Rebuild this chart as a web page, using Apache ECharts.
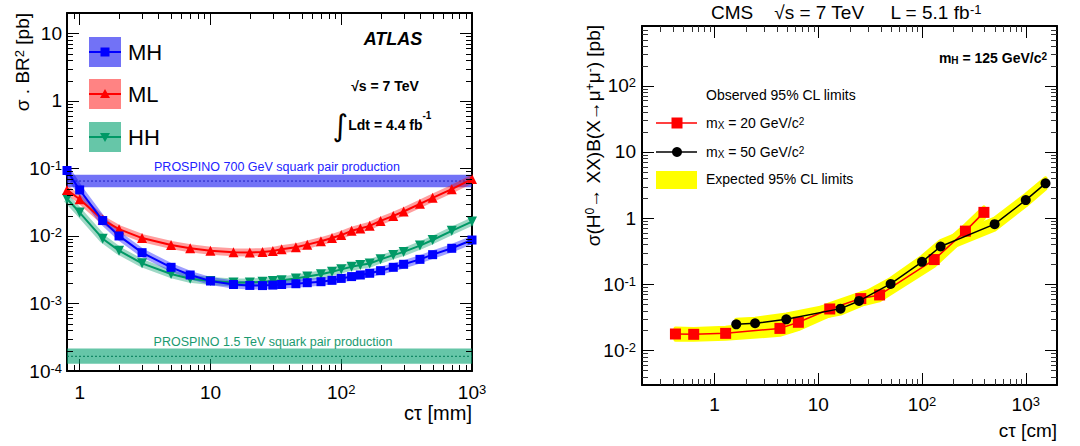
<!DOCTYPE html>
<html style="height: 100%; width: 100%">
  <head>
    <meta charset="utf-8" />
  </head>
  <body style="height: 100%; width: 100%; margin: 0">
    <div id="chart-panel" style="height: 446px; width: 1080px"></div>
    <script
      type="text/javascript"
      src="https://cdn.jsdelivr.net/npm/echarts@6/dist/echarts.min.js"
    ></script>

    <script type="text/javascript">
      // ---- left panel (ATLAS) : limits vs c*tau [mm]
      var atlasCtau = [0.8, 1, 1.5, 2, 3, 5, 7, 10, 15, 20, 25, 30, 35, 45, 55, 70, 85, 100, 120, 140, 165, 200, 250, 300, 400, 500, 700, 1000];
      var mhLimit = [0.093, 0.048, 0.0169, 0.01, 0.00565, 0.00343, 0.00264, 0.00215, 0.00191, 0.00185, 0.00184, 0.00187, 0.00191, 0.00196, 0.00203, 0.0021, 0.0022, 0.00235, 0.0025, 0.00264, 0.0028, 0.00306, 0.00343, 0.0038, 0.0045, 0.00528, 0.00656, 0.0087];
      var mlLimit = [0.048, 0.035, 0.0173, 0.0126, 0.0093, 0.00735, 0.00656, 0.00605, 0.00572, 0.0057, 0.0058, 0.006, 0.00634, 0.00679, 0.00743, 0.00834, 0.0093, 0.0103, 0.0119, 0.0129, 0.0141, 0.0167, 0.0198, 0.023, 0.0299, 0.0367, 0.0493, 0.0695];
      var hhLimit = [0.0355, 0.0222, 0.0091, 0.00605, 0.00393, 0.00273, 0.00232, 0.00215, 0.00205, 0.00205, 0.0021, 0.00215, 0.0022, 0.00235, 0.0025, 0.0027, 0.00295, 0.0032, 0.0035, 0.0037, 0.0039, 0.0045, 0.0052, 0.0058, 0.0072, 0.0087, 0.0119, 0.0163];
      // PROSPINO cross sections: [low, central, high]
      var prospino700 = [0.0528, 0.065, 0.0805];
      var prospino1500 = [0.000128, 0.000165, 0.000215];

      // ---- right panel (CMS) : limits vs c*tau [cm]
      var cmsCtau20 = [0.42, 0.63, 1.28, 4.27, 6.43, 12.9, 25.7, 39, 131, 262, 395];
      var cmsObs20 = [0.0177, 0.0175, 0.0181, 0.0215, 0.0266, 0.0423, 0.0607, 0.0689, 0.236, 0.635, 1.22];
      var cmsExp20Lo = [0.0145, 0.0145, 0.015, 0.0172, 0.021, 0.034, 0.049, 0.057, 0.19, 0.52, 1.0];
      var cmsExp20Hi = [0.0215, 0.021, 0.022, 0.027, 0.032, 0.05, 0.073, 0.085, 0.3, 0.78, 1.45];
      var cmsCtau50 = [1.62, 2.46, 4.92, 16.4, 24.7, 49.8, 100, 151, 501, 1000, 1550];
      var cmsObs50 = [0.0248, 0.0257, 0.0295, 0.0428, 0.0559, 0.101, 0.218, 0.372, 0.81, 1.87, 3.35];
      var cmsExp50Lo = [0.021, 0.0215, 0.025, 0.036, 0.047, 0.083, 0.18, 0.31, 0.67, 1.55, 2.8];
      var cmsExp50Hi = [0.029, 0.03, 0.035, 0.051, 0.066, 0.12, 0.26, 0.45, 0.98, 2.25, 4.0];

      var atlasX = [0.8, 1000];
      var atlasY = [0.0001, 20];
      var cmsX = [0.2, 2000];
      var cmsY = [0.003, 800];

      var FONT = "Liberation Sans";
      var BLUE = "#0000ff";
      var RED = "#ff0000";
      var GREEN = "#009966";

      function zip(xs, ys) {
        return xs.map(function (x, i) { return [x, ys[i]]; });
      }

      // minor tick values 2..9 x 10^k inside the range
      function minorValues(range) {
        var vals = [];
        var e0 = Math.floor(Math.log10(range[0]));
        var e1 = Math.ceil(Math.log10(range[1]));
        for (var e = e0; e <= e1; e++) {
          for (var m = 2; m <= 9; m++) {
            var v = m * Math.pow(10, e);
            if (v > range[0] * 1.0001 && v < range[1] * 0.9999) vals.push(v);
          }
        }
        return vals;
      }
      // x minor ticks and y minor ticks, one custom series each
      function makeXMinor(color) {
        return function (params, api) {
          var cs = params.coordSys;
          var x = Math.round(api.coord([api.value(0), api.value(1)])[0]) + 0.5;
          return { type: "group", children: [
            { type: "line", shape: { x1: x, y1: cs.y + cs.height, x2: x, y2: cs.y + cs.height - 6 }, style: { stroke: color, lineWidth: 1 } },
            { type: "line", shape: { x1: x, y1: cs.y, x2: x, y2: cs.y + 6 }, style: { stroke: color, lineWidth: 1 } }
          ] };
        };
      }
      function makeYMinor(color) {
        return function (params, api) {
          var cs = params.coordSys;
          var y = Math.round(api.coord([api.value(0), api.value(1)])[1]) + 0.5;
          return { type: "group", children: [
            { type: "line", shape: { x1: cs.x, y1: y, x2: cs.x + 6, y2: y }, style: { stroke: color, lineWidth: 1 } },
            { type: "line", shape: { x1: cs.x + cs.width, y1: y, x2: cs.x + cs.width - 6, y2: y }, style: { stroke: color, lineWidth: 1 } }
          ] };
        };
      }
      function minorSeries(axisIdx, xr, yr, which, color) {
        var vals = minorValues(which === "x" ? xr : yr);
        return {
          type: "custom",
          xAxisIndex: axisIdx, yAxisIndex: axisIdx,
          renderItem: which === "x" ? makeXMinor(color) : makeYMinor(color),
          data: vals.map(function (v) { return which === "x" ? [v, yr[0]] : [xr[0], v]; }),
          encode: { x: 0, y: 1 },
          silent: true, z: 5
        };
      }

      // horizontal cross-section band spanning the whole plot width
      function makeBandRenderer(fill, stroke) {
        return function (params, api) {
          var cs = params.coordSys;
          var yLo = api.coord([api.value(0), api.value(1)])[1];
          var yMid = api.coord([api.value(0), api.value(2)])[1];
          var yHi = api.coord([api.value(0), api.value(3)])[1];
          return { type: "group", children: [
            { type: "rect", shape: { x: cs.x, y: yHi, width: cs.width, height: yLo - yHi }, style: { fill: fill } },
            { type: "line", shape: { x1: cs.x, y1: yMid, x2: cs.x + cs.width, y2: yMid }, style: { stroke: stroke, lineWidth: 1, lineDash: [2, 2] } }
          ] };
        };
      }

      // yellow expected band: one polygon through all points
      function renderExpected(params, api) {
        if (params.dataIndexInside !== 0) return;
        var n = params.dataInsideLength;
        var upper = [], lower = [];
        for (var i = 0; i < n; i++) {
          upper.push(api.coord([api.value(0, i), api.value(2, i)]));
          lower.unshift(api.coord([api.value(0, i), api.value(1, i)]));
        }
        return {
          type: "polygon",
          shape: { points: upper.concat(lower) },
          style: { fill: "#ffff00", stroke: "#ffff00", lineWidth: 4, lineJoin: "round" }
        };
      }

      function powLabel(v) {
        var l = Math.log10(v);
        var e = Math.round(l);
        if (Math.abs(l - e) > 1e-6) return "";
        if (e === 0) return "1";
        if (e === 1) return "10";
        return "10{sup|" + e + "}";
      }

      function logAxis(grid, range, pos, showLabel, margin) {
        return {
          type: "log",
          gridIndex: grid,
          position: pos,
          min: range[0],
          max: range[1],
          axisLine: { show: true, onZero: false, lineStyle: { color: "#000", width: 2 } },
          axisTick: { show: true, inside: true, length: 12 },
          splitLine: { show: false },
          axisLabel: {
            show: showLabel,
            margin: margin,
            fontFamily: FONT,
            fontSize: 19,
            color: "#000",
            formatter: powLabel,
            rich: { sup: { fontSize: 13, fontFamily: FONT, verticalAlign: "top", color: "#000" } }
          }
        };
      }

      function curveBand(name, data, color) {
        return {
          name: name + " band",
          type: "line",
          xAxisIndex: 0,
          yAxisIndex: 0,
          data: data,
          symbol: "none",
          silent: true,
          z: 2,
          lineStyle: { color: color, width: 8, opacity: 0.38 }
        };
      }

      function textEl(x, y, text, opts, rotation) {
        var style = {
          text: text,
          fontFamily: FONT,
          fontSize: 14,
          fill: "#000",
          align: "left",
          verticalAlign: "middle"
        };
        for (var k in opts) style[k] = opts[k];
        return { type: "text", x: x, y: y, z: 100, rotation: rotation || 0, style: style };
      }

      function supRich(size, weight) {
        return {
          sup: { fontSize: size, fontFamily: FONT, fontWeight: weight || "normal", verticalAlign: "top" },
          sub: { fontSize: size, fontFamily: FONT, fontWeight: weight || "normal", verticalAlign: "bottom" }
        };
      }

      var dom = document.getElementById("chart-panel");
      // svg renderer: the short tick lines went missing on canvas
      var myChart = echarts.init(dom, null, { renderer: "svg" });

      var option = {
        animation: false,
        backgroundColor: "#ffffff",
        grid: [
          { left: 67, top: 13, width: 405, height: 358 },
          { left: 642, top: 26, width: 415, height: 359 }
        ],
        xAxis: [
          logAxis(0, atlasX, "bottom", true, 12),
          logAxis(0, atlasX, "top", false, 8),
          logAxis(1, cmsX, "bottom", true, 10),
          logAxis(1, cmsX, "top", false, 8)
        ],
        yAxis: [
          logAxis(0, atlasY, "left", true, 5),
          logAxis(0, atlasY, "right", false, 8),
          logAxis(1, cmsY, "left", true, 6),
          logAxis(1, cmsY, "right", false, 8)
        ],
        series: [
          // left panel
          {
            type: "custom",
            xAxisIndex: 0, yAxisIndex: 0,
            renderItem: makeBandRenderer("rgba(20,20,240,0.6)", "#2020c0"),
            data: [[atlasCtau[0]].concat(prospino700)],
            encode: { x: 0, y: [1, 2, 3] },
            silent: true, z: 1
          },
          {
            type: "custom",
            xAxisIndex: 0, yAxisIndex: 0,
            renderItem: makeBandRenderer("rgba(0,160,110,0.6)", "#007a55"),
            data: [[atlasCtau[0]].concat(prospino1500)],
            encode: { x: 0, y: [1, 2, 3] },
            silent: true, z: 1
          },
          minorSeries(0, atlasX, atlasY, "x", "#000"),
          minorSeries(0, atlasX, atlasY, "y", "#000"),
          curveBand("HH", zip(atlasCtau, hhLimit), GREEN),
          curveBand("ML", zip(atlasCtau, mlLimit), RED),
          curveBand("MH", zip(atlasCtau, mhLimit), BLUE),
          {
            name: "HH",
            type: "line",
            xAxisIndex: 0, yAxisIndex: 0,
            data: zip(atlasCtau, hhLimit),
            symbol: "triangle",
            symbolRotate: 180,
            symbolSize: 10,
            clip: false,
            z: 3,
            lineStyle: { color: GREEN, width: 2 },
            itemStyle: { color: GREEN }
          },
          {
            name: "ML",
            type: "line",
            xAxisIndex: 0, yAxisIndex: 0,
            data: zip(atlasCtau, mlLimit),
            symbol: "triangle",
            symbolSize: 10,
            clip: false,
            z: 3,
            lineStyle: { color: RED, width: 2 },
            itemStyle: { color: RED }
          },
          {
            name: "MH",
            type: "line",
            xAxisIndex: 0, yAxisIndex: 0,
            data: zip(atlasCtau, mhLimit),
            symbol: "rect",
            symbolSize: 9,
            clip: false,
            z: 3,
            lineStyle: { color: BLUE, width: 2 },
            itemStyle: { color: BLUE }
          },
          // right panel
          {
            type: "custom",
            xAxisIndex: 2, yAxisIndex: 2,
            renderItem: renderExpected,
            data: cmsCtau20.map(function (x, i) { return [x, cmsExp20Lo[i], cmsExp20Hi[i]]; }),
            encode: { x: 0, y: [1, 2] },
            silent: true, z: 1
          },
          {
            type: "custom",
            xAxisIndex: 2, yAxisIndex: 2,
            renderItem: renderExpected,
            data: cmsCtau50.map(function (x, i) { return [x, cmsExp50Lo[i], cmsExp50Hi[i]]; }),
            encode: { x: 0, y: [1, 2] },
            silent: true, z: 1
          },
          minorSeries(2, cmsX, cmsY, "x", "#333"),
          minorSeries(2, cmsX, cmsY, "y", "#333"),
          {
            name: "mX = 20",
            type: "line",
            xAxisIndex: 2, yAxisIndex: 2,
            data: zip(cmsCtau20, cmsObs20),
            symbol: "rect",
            symbolSize: 11,
            z: 3,
            lineStyle: { color: RED, width: 1.5 },
            itemStyle: { color: RED }
          },
          {
            name: "mX = 50",
            type: "line",
            xAxisIndex: 2, yAxisIndex: 2,
            data: zip(cmsCtau50, cmsObs50),
            symbol: "circle",
            symbolSize: 10,
            z: 4,
            lineStyle: { color: "#000", width: 1.5 },
            itemStyle: { color: "#000" }
          }
        ],
        graphic: {
          elements: [
            // left panel texts
            textEl(22, 13, "σ . BR{sup|2} [pb]", { fontSize: 19, align: "right", rich: supRich(13) }, Math.PI / 2),
            textEl(472, 413, "cτ [mm]", { fontSize: 20, align: "right" }),
            textEl(393, 39, "ATLAS", { fontSize: 18, fontWeight: "bold", fontStyle: "italic", align: "center" }),
            textEl(385, 86, "√s = 7 TeV", { fontWeight: "bold", align: "center" }),
            textEl(382, 125, "{int|∫}Ldt = 4.4 fb{sup|-1}", {
              fontWeight: "bold", align: "center",
              rich: {
                int: { fontSize: 30, fontFamily: "DejaVu Sans", fontWeight: "normal" },
                sup: { fontSize: 10, fontFamily: FONT, fontWeight: "bold", verticalAlign: "top" }
              }
            }),
            textEl(277, 167, "PROSPINO 700 GeV squark pair production", { fontSize: 12.5, fill: "#2222ff", align: "center" }),
            textEl(273, 342, "PROSPINO 1.5 TeV squark pair production", { fontSize: 12.5, fill: "#1a9a70", align: "center" }),
            // left legend
            { type: "rect", shape: { x: 89, y: 37, width: 32, height: 30 }, style: { fill: "rgba(20,20,240,0.6)" }, z: 100 },
            { type: "line", shape: { x1: 89, y1: 52, x2: 121, y2: 52 }, style: { stroke: BLUE, lineWidth: 2 }, z: 101 },
            { type: "rect", shape: { x: 100.5, y: 47.5, width: 9, height: 9 }, style: { fill: BLUE }, z: 102 },
            textEl(128, 52, "MH", { fontSize: 22 }),
            { type: "rect", shape: { x: 89, y: 79, width: 32, height: 30 }, style: { fill: "rgba(255,30,30,0.55)" }, z: 100 },
            { type: "line", shape: { x1: 89, y1: 94, x2: 121, y2: 94 }, style: { stroke: RED, lineWidth: 2 }, z: 101 },
            { type: "polygon", shape: { points: [[105, 89], [110, 98], [100, 98]] }, style: { fill: RED }, z: 102 },
            textEl(128, 94, "ML", { fontSize: 22 }),
            { type: "rect", shape: { x: 89, y: 122, width: 32, height: 30 }, style: { fill: "rgba(0,160,110,0.6)" }, z: 100 },
            { type: "line", shape: { x1: 89, y1: 137, x2: 121, y2: 137 }, style: { stroke: GREEN, lineWidth: 2 }, z: 101 },
            { type: "polygon", shape: { points: [[100, 133], [110, 133], [105, 142]] }, style: { fill: GREEN }, z: 102 },
            textEl(128, 137, "HH", { fontSize: 22 }),
            // right panel texts
            textEl(846, 12, "CMS    √s = 7 TeV     L = 5.1 fb{sup|-1}", { fontSize: 19, align: "center", rich: supRich(13) }),
            textEl(593, 25, "σ(H{sup|0}→ XX)B(X→μ{sup|+}μ{sup|-}) [pb]", { fontSize: 19, align: "right", rich: supRich(12) }, Math.PI / 2),
            textEl(1057, 430, "cτ [cm]", { fontSize: 19, align: "right" }),
            textEl(1047, 58, "m{sub|H} = 125 GeV/c{sup|2}", { fontWeight: "bold", align: "right", rich: supRich(10, "bold") }),
            textEl(706, 95, "Observed 95% CL limits", {}),
            { type: "line", shape: { x1: 656, y1: 123, x2: 697, y2: 123 }, style: { stroke: RED, lineWidth: 1.5 }, z: 100 },
            { type: "rect", shape: { x: 671.5, y: 117.5, width: 11, height: 11 }, style: { fill: RED }, z: 101 },
            textEl(706, 123, "m{sub|X} = 20 GeV/c{sup|2}", { rich: supRich(10) }),
            { type: "line", shape: { x1: 656, y1: 152, x2: 697, y2: 152 }, style: { stroke: "#000", lineWidth: 1.5 }, z: 100 },
            { type: "circle", shape: { cx: 677, cy: 152, r: 5 }, style: { fill: "#000" }, z: 101 },
            textEl(706, 152, "m{sub|X} = 50 GeV/c{sup|2}", { rich: supRich(10) }),
            { type: "rect", shape: { x: 656, y: 171, width: 41, height: 18 }, style: { fill: "#ffff00" }, z: 100 },
            textEl(706, 179, "Expected 95% CL limits", {})
          ]
        }
      };

      if (option && typeof option === "object") {
        myChart.setOption(option);
      }
    </script>
  </body>
</html>
